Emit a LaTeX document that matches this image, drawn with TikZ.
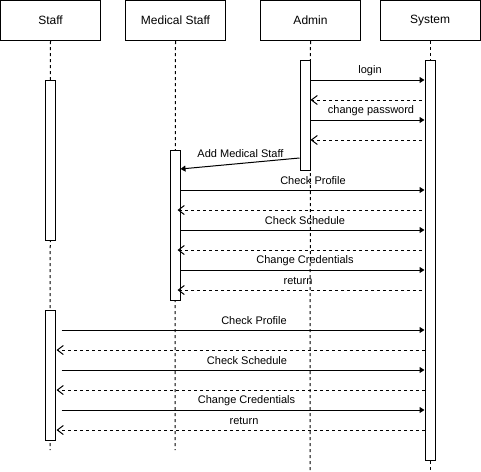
\documentclass[tikz,border=0pt]{standalone}
\usepackage{fontspec}
\setmainfont{Liberation Sans}
\usetikzlibrary{arrows.meta,calc}
\begin{document}
\begin{tikzpicture}[x=1pt,y=-1pt,line width=1pt,
 head/.style={draw, minimum width=100pt, minimum height=40pt, inner sep=0pt, font=\fontsize{12}{14}\selectfont},
 bar/.style={draw, fill=white, minimum width=10pt, inner sep=0pt},
 life/.style={dash pattern=on 3pt off 3pt},
 msg/.style={-{Triangle[length=5pt,width=6pt]}},
 ret/.style={dash pattern=on 3pt off 3pt, -{Straight Barb[length=6pt,width=9pt]}},
 lbl/.style={font=\fontsize{11}{13}\selectfont, inner sep=1pt}]
\useasboundingbox (0,0) rectangle (481,471);
% heads
\node[head] (staff) at (50.5,20.5) {Staff};
\node[head] (med) at (175.5,20.5) {Medical Staff};
\node[head] (admin) at (310.5,20.5) {Admin};
\node[head] (sys) at (430,20.5) {System};
% lifeline ends
\coordinate (staffend) at (50,450);
\coordinate (medend) at (175,450);
\coordinate (adminend) at (310,471);
\coordinate (sysend) at (430,471);
\draw[life] (staff.south) -- (staffend);
\draw[life] (med.south) -- (medend);
\draw[life] (admin.south) -- (adminend);
\draw[life] (sys.south) -- (sysend);
% activation bars
\node[bar, minimum height=160pt] (sb1) at (50,160) {};
\node[bar, minimum height=130pt] (sb2) at (50,375) {};
\node[bar, minimum height=150pt] (mb) at (175,225) {};
\node[bar, minimum height=110pt] (ab) at (305,115) {};
\node[bar, minimum height=400pt] (yb) at (430,260) {};
% admin messages
\draw[msg] (ab.east |- 0,80) -- (yb.west |- 0,80);
\node[lbl] (l1) at (370,71) {login};
\draw[ret] ($(yb.west |- 0,100)+(-3,0)$) -- (ab.east |- 0,100);
\draw[msg] (ab.east |- 0,120) -- (yb.west |- 0,120);
\node[lbl] (l2) at (371,111) {change password};
\draw[ret] ($(yb.west |- 0,140)+(-3,0)$) -- (ab.east |- 0,140);
\draw[msg] (ab.west |- 0,158) -- (mb.east |- 0,169);
\node[lbl] (l3) at (240.5,154) {Add Medical Staff};
% medical staff messages
\draw[msg] (mb.east |- 0,190) -- (yb.west |- 0,190);
\node[lbl] (l4) at (313,181) {Check Profile};
\draw[ret] ($(yb.west |- 0,210)+(-3,0)$) -- ($(mb.east |- 0,210)+(-3,0)$);
\draw[msg] (mb.east |- 0,230) -- (yb.west |- 0,230);
\node[lbl] (l5) at (305,221) {Check Schedule};
\draw[ret] ($(yb.west |- 0,250)+(-3,0)$) -- ($(mb.east |- 0,250)+(-3,0)$);
\draw[msg] (mb.east |- 0,270) -- (yb.west |- 0,270);
\node[lbl] (l6) at (305,261) {Change Credentials};
\draw[ret] ($(yb.west |- 0,290)+(-3,0)$) -- ($(mb.east |- 0,290)+(-3,0)$);
\node[lbl] (l7) at (298,281) {return};
% staff messages
\draw[msg] ($(sb2.east |- 0,330)+(6,0)$) -- (yb.west |- 0,330);
\node[lbl] (l8) at (254,321) {Check Profile};
\draw[ret] (yb.west |- 0,350) -- ($(sb2.east |- 0,350)+(1,0)$);
\draw[msg] ($(sb2.east |- 0,370)+(6,0)$) -- (yb.west |- 0,370);
\node[lbl] (l9) at (247,361) {Check Schedule};
\draw[ret] (yb.west |- 0,390) -- ($(sb2.east |- 0,390)+(1,0)$);
\draw[msg] ($(sb2.east |- 0,410)+(6,0)$) -- (yb.west |- 0,410);
\node[lbl] (l10) at (246.5,401) {Change Credentials};
\draw[ret] (yb.west |- 0,430) -- ($(sb2.east |- 0,430)+(1,0)$);
\node[lbl] (l11) at (244,421) {return};
\end{tikzpicture}
\end{document}
